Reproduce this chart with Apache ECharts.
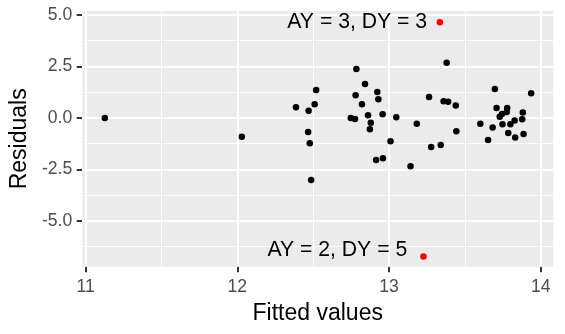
<!DOCTYPE html>
<html>
<head>
<meta charset="utf-8">
<script src="https://cdn.jsdelivr.net/npm/echarts@6/dist/echarts.min.js"></script>
<style>
html,body{margin:0;padding:0;background:#fff;}
#chart{width:565px;height:334px;}
</style>
</head>
<body>
<div id="chart"></div>
<script>
// ---- data ----
var fittedValues = [11.127, 12.03, 12.387, 12.47, 12.51, 12.52, 12.467, 12.478, 12.487,
  12.785, 12.842, 12.78, 12.923, 12.93, 12.822, 12.748, 12.776, 12.862, 12.958, 13.048,
  12.88, 12.874, 13.01, 12.915, 12.96, 13.142, 13.183, 13.264, 13.36, 13.39, 13.44,
  13.444, 13.278, 13.341, 13.38, 13.698, 13.937, 13.709, 13.779, 13.776, 13.745, 13.73,
  13.882, 13.878, 13.828, 13.80, 13.748, 13.602, 13.683, 13.786, 13.832, 13.887, 13.653];
var residuals = [0.00, -0.91, 0.52, 0.35, 0.66, 1.36, -0.68, -1.23, -3.01,
  2.38, 1.65, 1.10, 1.26, 0.91, 0.66, 0.00, -0.05, 0.13, 0.18, 0.03,
  -0.23, -0.55, -1.13, -2.04, -1.96, -2.35, -0.28, 1.02, 0.81, 0.78, 0.60,
  -0.65, -1.41, -1.31, 2.68, 1.41, 1.20, 0.48, 0.48, 0.29, 0.19, 0.06,
  0.26, -0.06, -0.13, -0.31, -0.31, -0.28, -0.47, -0.73, -0.95, -0.78, -1.07];
var flaggedFitted = [13.335, 13.227];
var flaggedResid = [4.645, -6.73];
var flaggedLabels = ['AY = 3, DY = 3', 'AY = 2, DY = 5'];
var xTicks = [11, 12, 13, 14];
var xMinorTicks = [11.5, 12.5, 13.5];
var yTicks = [-5, -2.5, 0, 2.5, 5];
var yMinorTicks = [-6.25, -3.75, -1.25, 1.25, 3.75];
var xTitle = 'Fitted values';
var yTitle = 'Residuals';

// ---- chart ----
var FONT = 'Liberation Sans, Arial, sans-serif';
var xMin = 10.978, xMax = 14.083, yMin = -7.22, yMax = 5.19;

var points = fittedValues.map(function (x, i) { return [x, residuals[i]]; });
var flagged = flaggedFitted.map(function (x, i) {
  return {
    value: [x, flaggedResid[i]],
    label: {
      show: true,
      position: 'left',
      distance: i === 1 ? 13 : 9.5,
      offset: i === 1 ? [0, -6] : [0, 0],
      formatter: flaggedLabels[i],
      color: '#000',
      fontSize: 21.2,
      fontFamily: FONT
    }
  };
});

function gridLines(xs, ys, width) {
  return {
    type: 'line', data: [], xAxisIndex: 0, yAxisIndex: 0, z: 1, silent: true,
    markLine: {
      z: 1, zlevel: 0,
      silent: true, animation: false, symbol: ['none', 'none'],
      label: {show: false}, emphasis: {disabled: true},
      lineStyle: {color: '#ffffff', width: width, type: 'solid', opacity: 1},
      data: xs.map(function (v) { return {xAxis: v}; })
        .concat(ys.map(function (v) { return {yAxis: v}; }))
    }
  };
}

var chart = echarts.init(document.getElementById('chart'), null, {renderer: 'canvas'});
chart.setOption({
  animation: false,
  backgroundColor: '#ffffff',
  grid: {
    left: 80.7, right: 11.7, top: 11, bottom: 67.3,
    show: true, backgroundColor: '#EBEBEB', borderWidth: 0
  },
  xAxis: [{
    type: 'value', min: xMin, max: xMax, position: 'bottom',
    axisLine: {show: false, onZero: false},
    axisTick: {show: true, customValues: xTicks, length: 5.5, lineStyle: {color: '#333333', width: 2}},
    axisLabel: {customValues: xTicks, color: '#4D4D4D', fontSize: 17.6, fontFamily: FONT, margin: 11,
      formatter: function (v) { return String(v); }},
    splitLine: {show: false},
    name: xTitle, nameLocation: 'middle', nameGap: 35,
    nameTextStyle: {color: '#000', fontSize: 23, fontFamily: FONT}
  }],
  yAxis: [{
    type: 'value', min: yMin, max: yMax, position: 'left',
    axisLine: {show: false, onZero: false},
    axisTick: {show: true, customValues: yTicks, length: 5.5, lineStyle: {color: '#333333', width: 2}},
    axisLabel: {customValues: yTicks, color: '#4D4D4D', fontSize: 17.6, fontFamily: FONT, margin: 10,
      formatter: function (v) { return v.toFixed(1); }},
    splitLine: {show: false},
    name: yTitle, nameLocation: 'middle', nameGap: 47, nameRotate: 90,
    nameTextStyle: {color: '#000', fontSize: 23, fontFamily: FONT}
  }],
  series: [
    gridLines(xMinorTicks, yMinorTicks, 1.05),
    gridLines(xTicks, yTicks, 2.1),
    {
      type: 'scatter', xAxisIndex: 0, yAxisIndex: 0,
      data: points, symbol: 'circle', symbolSize: 6.5,
      itemStyle: {color: '#000000', opacity: 1},
      emphasis: {disabled: true}, z: 3
    }, {
      type: 'scatter', xAxisIndex: 0, yAxisIndex: 0,
      data: flagged, symbol: 'circle', symbolSize: 6.5,
      itemStyle: {color: '#FF0000', opacity: 1},
      emphasis: {disabled: true}, z: 4
    }
  ]
});
</script>
</body>
</html>
